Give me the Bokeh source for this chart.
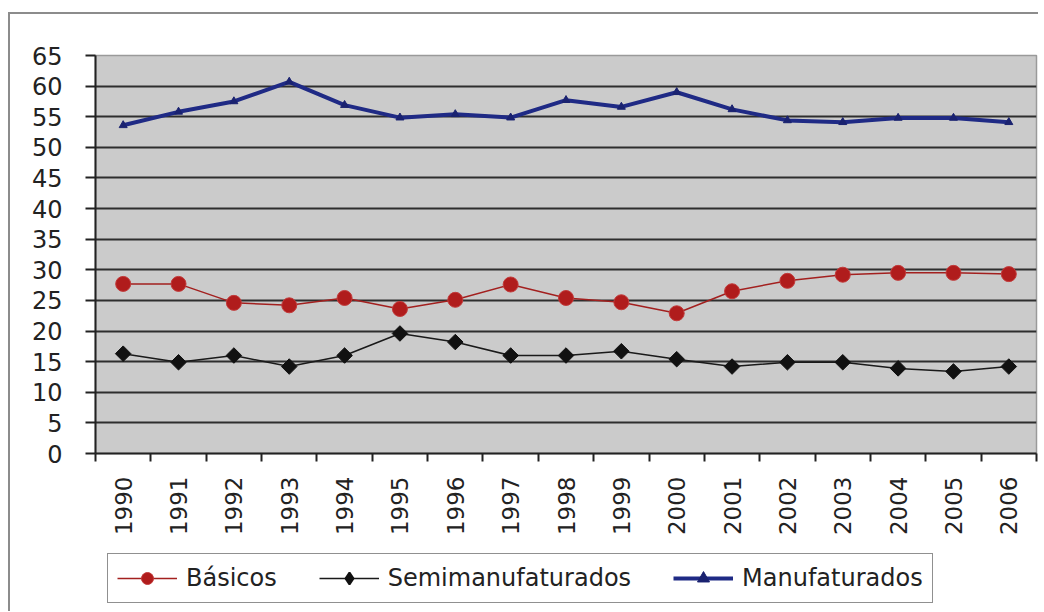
import math
from bokeh.plotting import figure
from bokeh.layouts import column
from bokeh.models import Range1d, FixedTicker, Legend, LegendItem
from bokeh.embed import file_html
from bokeh.resources import INLINE

years = ["1990", "1991", "1992", "1993", "1994", "1995", "1996", "1997", "1998",
         "1999", "2000", "2001", "2002", "2003", "2004", "2005", "2006"]
basicos = [27.7, 27.7, 24.6, 24.2, 25.4, 23.6, 25.1, 27.6, 25.4,
           24.7, 22.9, 26.5, 28.2, 29.2, 29.5, 29.5, 29.3]
semimanufaturados = [16.3, 14.9, 16.0, 14.2, 16.0, 19.6, 18.2, 16.0, 16.0,
                     16.7, 15.4, 14.2, 14.9, 14.9, 13.9, 13.4, 14.2]
manufaturados = [53.6, 55.8, 57.5, 60.7, 56.9, 54.85, 55.4, 54.85, 57.7,
                 56.6, 59.0, 56.2, 54.4, 54.1, 54.8, 54.8, 54.1]
series_names = ["Básicos", "Semimanufaturados", "Manufaturados"]
y_ticks = list(range(0, 66, 5))

FONT = "DejaVu Sans"
x = [i + 0.5 for i in range(len(years))]

p = figure(width=1028, height=527, output_backend="svg", toolbar_location=None,
           x_range=Range1d(0, len(years)), y_range=Range1d(0, 65),
           min_border_left=85, min_border_top=41, min_border_right=2,
           min_border_bottom=88)
p.background_fill_color = "#cbcbcb"
p.border_fill_color = "white"
p.outline_line_color = "#9a9a9a"
p.outline_line_width = 1.5

# grid
p.xgrid.visible = False
p.ygrid.ticker = FixedTicker(ticks=[t for t in y_ticks if 0 < t < 65])
p.ygrid.grid_line_color = "#2e2e2e"
p.ygrid.grid_line_width = 2

# y axis
ya = p.yaxis[0]
ya.ticker = FixedTicker(ticks=y_ticks)
ya.major_label_text_font = FONT
ya.major_label_text_font_size = "24px"
ya.major_label_text_color = "#222222"
ya.axis_line_color = "#222222"
ya.axis_line_width = 2
ya.major_tick_line_color = "#222222"
ya.major_tick_line_width = 2
ya.major_tick_out = 10
ya.major_tick_in = 0
ya.minor_tick_line_color = None
ya.major_label_standoff = 23

# x axis
xa = p.xaxis[0]
xa.ticker = FixedTicker(ticks=x, minor_ticks=list(range(len(years) + 1)))
xa.major_label_overrides = {xi: y for xi, y in zip(x, years)}
xa.major_label_orientation = math.pi / 2
xa.major_label_text_font = FONT
xa.major_label_text_font_size = "23px"
xa.major_label_text_color = "#222222"
xa.axis_line_color = "#222222"
xa.axis_line_width = 2
xa.major_tick_line_color = None
xa.major_tick_out = 0
xa.major_tick_in = 0
xa.minor_tick_line_color = "#222222"
xa.minor_tick_line_width = 2
xa.minor_tick_out = 8
xa.minor_tick_in = 0
xa.major_label_standoff = 15

# series styles
line_styles = [
    dict(line_color="#a3201f", line_width=1.5),
    dict(line_color="#1a1a1a", line_width=1.5),
    dict(line_color="#1f2a85", line_width=4),
]
plot_markers = [
    dict(marker="circle", size=15, fill_color="#b01c1c", line_color="#c23a3a", line_width=1),
    dict(marker="square", angle=math.pi / 4, size=11, fill_color="#111111", line_color="#111111"),
    dict(marker="triangle", size=8, fill_color="#1a2270", line_color="#1a2270"),
]
legend_markers = [
    dict(marker="circle", fill_color="#b01c1c", line_color="#c23a3a", line_width=1),
    dict(marker="diamond", fill_color="#111111", line_color="#111111", line_width=2),
    dict(marker="triangle", fill_color="#1a2270", line_color="#1a2270"),
]
data = [basicos, semimanufaturados, manufaturados]

for vals, ls, ms in zip(data, line_styles, plot_markers):
    p.line(x, vals, **ls)
    p.scatter(x, vals, **ms)

# legend strip (separate figure so the legend is not clipped by the plot frame)
lp = figure(width=1028, height=70, output_backend="svg", toolbar_location=None,
            x_range=Range1d(0, 1), y_range=Range1d(0, 1),
            x_axis_type=None, y_axis_type=None,
            min_border_left=0, min_border_right=0, min_border_top=0,
            min_border_bottom=0)
lp.outline_line_color = None
lp.background_fill_color = "white"
lp.border_fill_color = "white"

items = []
for name, vals, ls, ms in zip(series_names, data, line_styles, legend_markers):
    r1 = lp.line(x, vals, **ls)
    r2 = lp.scatter(x, vals, **ms)
    items.append(LegendItem(label=name, renderers=[r1, r2]))

legend = Legend(items=items, location=(12, 8), orientation="horizontal")
legend.label_text_font = FONT
legend.label_text_font_size = "24px"
legend.label_text_color = "#222222"
legend.glyph_width = 60
legend.glyph_height = 30
legend.label_standoff = 9
legend.spacing = 42
legend.padding = 9
legend.margin = 0
legend.border_line_color = "#222222"
legend.border_line_width = 1.5
legend.background_fill_color = "white"
legend.background_fill_alpha = 1
lp.add_layout(legend, "center")

layout = column(p, lp, spacing=0)
layout.styles = {"border-left": "2px solid #8c8c8c", "border-top": "2px solid #8c8c8c",
                 "margin-left": "8px", "margin-top": "12px"}

open("out.html", "w").write(file_html(layout, INLINE))
